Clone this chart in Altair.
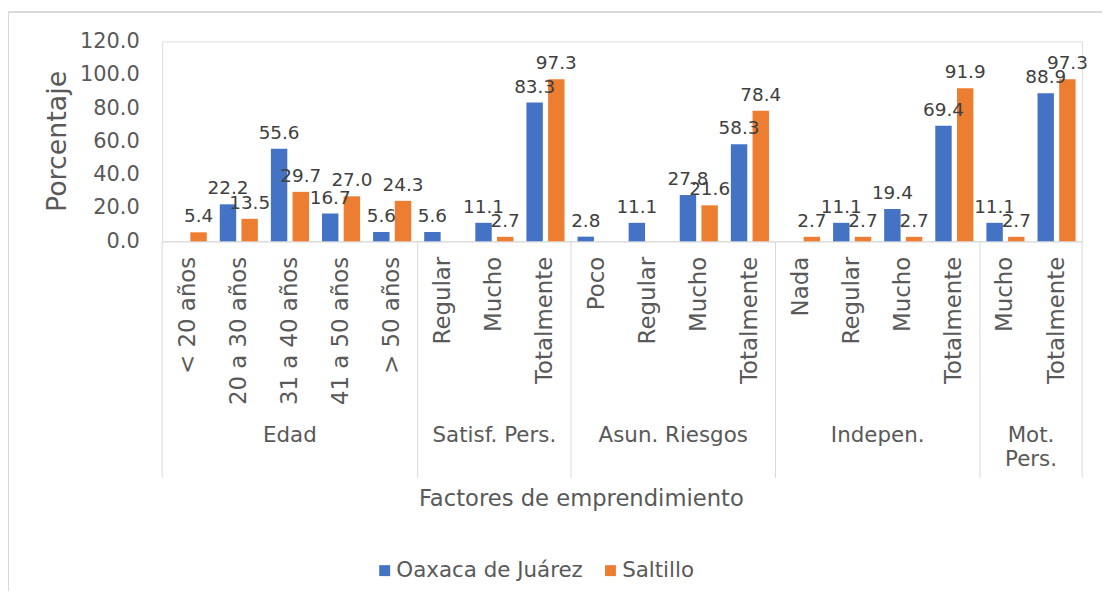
import altair as alt
import pandas as pd

# ---------------- data ----------------
groups = ["Edad", "Satisf. Pers.", "Asun. Riesgos", "Indepen.", "Mot.\nPers."]
categories = [
    ["< 20 años", "20 a 30 años", "31 a 40 años", "41 a 50 años", "> 50 años"],
    ["Regular", "Mucho", "Totalmente"],
    ["Poco", "Regular", "Mucho", "Totalmente"],
    ["Nada", "Regular", "Mucho", "Totalmente"],
    ["Mucho", "Totalmente"],
]
series = ["Oaxaca de Juárez", "Saltillo"]
oaxaca = [None, 22.2, 55.6, 16.7, 5.6,
          5.6, 11.1, 83.3,
          2.8, 11.1, 27.8, 58.3,
          None, 11.1, 19.4, 69.4,
          11.1, 88.9]
saltillo = [5.4, 13.5, 29.7, 27.0, 24.3,
            None, 2.7, 97.3,
            None, None, 21.6, 78.4,
            2.7, 2.7, 2.7, 91.9,
            2.7, 97.3]
y_ticks = [0, 20, 40, 60, 80, 100, 120]

# ---------------- tables ----------------
keys, rows = [], []
i = 0
for gi, cats in enumerate(categories):
    for c in cats:
        k = f"{gi}|{c}"
        keys.append(k)
        rows.append({"key": k, "serie": series[0], "value": oaxaca[i]})
        rows.append({"key": k, "serie": series[1], "value": saltillo[i]})
        i += 1
df = pd.DataFrame(rows)
n_total = len(keys)

grp_rows, sep_rows = [], []
start = 0
for g, cats in zip(groups, categories):
    n = len(cats)
    grp_rows.append({"name": g, "center": start + n / 2})
    sep_rows.append({"pos": start})
    start += n
sep_rows.append({"pos": start})
df_groups = pd.DataFrame(grp_rows)
df_seps = pd.DataFrame(sep_rows)

# ---------------- chart ----------------
W, H = 925, 201
FONT = "DejaVu Sans"
TXT = "#595959"
LINE = "#D9D9D9"

x_band = alt.X(
    "key:N", sort=keys,
    scale=alt.Scale(paddingInner=0, paddingOuter=0),
    axis=alt.Axis(
        title="Factores de emprendimiento",
        titleX=421, titleY=259, titleAlign="center", titleBaseline="middle",
        titleFontSize=22.8, titleFontWeight="normal", titleColor=TXT, titleFont=FONT,
        labelExpr="split(datum.value, '|')[1]",
        labelAngle=270, labelAlign="right", labelBaseline="middle",
        labelPadding=15, labelFontSize=23, labelColor=TXT, labelFont=FONT,
        labelOverlap=False, labelLimit=300,
        ticks=False, domainColor=LINE, domainWidth=1,
    ),
)
y_axis = alt.Axis(
    values=y_ticks, format=".1f", grid=False, domain=False, ticks=False,
    labelPadding=23, labelFontSize=21, labelColor=TXT, labelFont=FONT,
    labelOverlap=False, labelFlush=False,
    title="Porcentaje", titleFontSize=27, titleFontWeight="normal",
    titleColor=TXT, titleFont=FONT, titleX=-105, titleY=100,
    titleAngle=270, titleAlign="center", titleBaseline="middle",
)
y_enc = alt.Y("value:Q", scale=alt.Scale(domain=[0, 120], nice=False), axis=y_axis)
xoff = alt.XOffset("serie:N", sort=series,
                   scale=alt.Scale(paddingInner=0.243, paddingOuter=0.3))
color = alt.Color(
    "serie:N", sort=series,
    scale=alt.Scale(domain=series, range=["#4472C4", "#ED7D31"]),
    legend=alt.Legend(
        title=None, orient="none", legendX=213, legendY=521,
        direction="horizontal", symbolType="square", symbolSize=121,
        symbolStrokeWidth=0, labelFontSize=21.5, labelColor=TXT,
        labelFont=FONT, labelOffset=1, columnPadding=16, labelLimit=400,
    ),
)

bars = alt.Chart(df).mark_bar().encode(x=x_band, y=y_enc, xOffset=xoff, color=color)
vlabels = alt.Chart(df).transform_filter("isValid(datum.value)").mark_text(
    baseline="bottom", dy=-6, fontSize=18.5, color="#404040", font=FONT
).encode(
    x=x_band, xOffset=xoff, y=y_enc,
    text=alt.Text("value:Q", format=".1f"),
)
main = alt.layer(bars, vlabels)

xq = alt.Scale(domain=[0, n_total], nice=False, zero=False)
seps = alt.Chart(df_seps).mark_rule(color=LINE, strokeWidth=1).encode(
    x=alt.X("pos:Q", scale=xq, axis=None),
    y=alt.value(H), y2=alt.value(439),
)
glabels = alt.Chart(df_groups).mark_text(
    baseline="alphabetic", align="center", lineBreak="\n", lineHeight=24,
    fontSize=21.5, color=TXT, font=FONT,
).encode(
    x=alt.X("center:Q", scale=xq, axis=None),
    y=alt.value(403), text="name:N",
)
frame = alt.Chart(df_seps).mark_rect(filled=False, stroke=LINE, strokeWidth=1).encode(
    x=alt.value(-154.5), x2=alt.value(960), y=alt.value(-29.5), y2=alt.value(600)
)
side = alt.layer(frame, seps, glabels)

chart = alt.layer(main, side).resolve_scale(x="independent").properties(
    width=W, height=H,
    autosize=alt.AutoSizeParams(type="none"),
    padding={"left": 155, "top": 32, "right": 20, "bottom": 350},
).configure_view(stroke=None).configure(font=FONT).configure_axisY(labelOverlap=False)

chart.save("out.html", embed_options={"renderer": "svg", "actions": False})
